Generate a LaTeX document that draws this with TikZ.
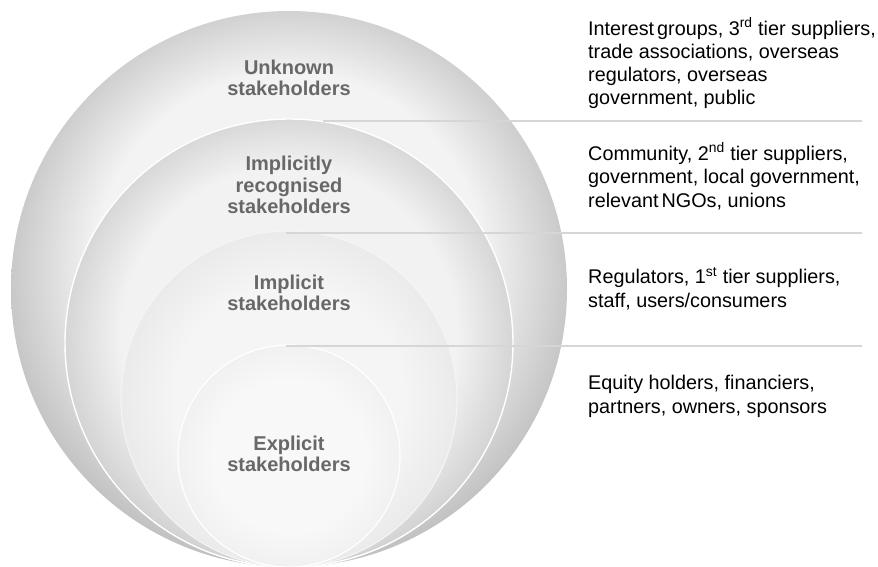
\documentclass[tikz,border=0pt]{standalone}
\usepackage{fontspec}
\setmainfont{Liberation Sans}
\usetikzlibrary{positioning}

\definecolor{ringAin}{RGB}{243,243,243}
\definecolor{ringAout}{RGB}{182,182,182}
\definecolor{ringBin}{RGB}{242,242,242}
\definecolor{ringBout}{RGB}{198,198,198}
\definecolor{ringCin}{RGB}{245,245,245}
\definecolor{ringCout}{RGB}{230,230,230}
\definecolor{ringDin}{RGB}{248,248,248}
\definecolor{ringDout}{RGB}{238,238,238}
\definecolor{labelgray}{RGB}{104,104,104}
\definecolor{rulegray}{RGB}{214,214,214}

% circle edge sits at about 28.3bp of the shading
\pgfdeclareradialshading{ringA}{\pgfpoint{0bp}{3bp}}{color(0bp)=(ringAin); color(17.5bp)=(ringAin); color(28.3bp)=(ringAout); color(50bp)=(ringAout)}
\pgfdeclareradialshading{ringB}{\pgfpoint{0bp}{1.5bp}}{color(0bp)=(ringBin); color(18.7bp)=(ringBin); color(28.3bp)=(ringBout); color(50bp)=(ringBout)}
\pgfdeclareradialshading{ringC}{\pgfpoint{0bp}{0bp}}{color(0bp)=(ringCin); color(17bp)=(ringCin); color(28.3bp)=(ringCout); color(50bp)=(ringCout)}
\pgfdeclareradialshading{ringD}{\pgfpoint{0bp}{0bp}}{color(0bp)=(ringDin); color(17bp)=(ringDin); color(28.3bp)=(ringDout); color(50bp)=(ringDout)}

\begin{document}
\begin{tikzpicture}[
            x=1pt, y=-1pt,
            circlelabel/.style={ align=center, text=labelgray, font=\fontsize{20}{21.5}\selectfont\bfseries },
            grouptext/.style={ align=left, anchor=base west, inner sep=0pt, font=\fontsize{19.8}{23.3}\selectfont },
            divider/.style={ draw=rulegray, line width=1.6pt }
        ]
        \useasboundingbox (0,0) rectangle (878,567);

        % nested circles, all touching at the bottom
        \shade[shading=ringA] (289,289) circle[radius=278];
        \shade[shading=ringB, draw=white, line width=1.4pt] (289,343) circle[radius=224];
        \shade[shading=ringC, draw=white!60!ringCout, line width=1pt] (289,399) circle[radius=168];
        \shade[shading=ringD, draw=white, line width=1.2pt] (289,456) circle[radius=111];

        \node[circlelabel] (unknown) at (289,78) {Unknown\\stakeholders};
        \node[circlelabel] (recog) at (289,185) {Implicitly\\recognised\\stakeholders};
        \node[circlelabel] (implicit) at (289,293) {Implicit\\stakeholders};
        \node[circlelabel] (explicit) at (289,454) {Explicit\\stakeholders};

        \coordinate (cut1) at (323,121);
        \coordinate (end1) at (862,121);
        \coordinate (cut2) at (286,233);
        \coordinate (end2) at (862,233);
        \coordinate (cut3) at (286,346);
        \coordinate (end3) at (862,346);
        \draw[divider] (cut1) -- (end1);
        \draw[divider] (cut2) -- (end2);
        \draw[divider] (cut3) -- (end3);

        % base anchor = last line of each block
        \node[grouptext] (third) at (588,105) {Interest\hspace{-2.5pt} groups, 3\textsuperscript{rd} tier suppliers,\\trade associations, overseas\\regulators, overseas\\government, public};
        \node[grouptext] (second) at (588,207) {Community, 2\textsuperscript{nd} tier suppliers,\\government, local government,\\relevant\hspace{-2.5pt} NGOs, unions};
        \node[grouptext] (first) at (588,307) {Regulators, 1\textsuperscript{st} tier suppliers,\\staff, users/consumers};
        \node[grouptext] (equity) at (588,413) {Equity holders, financiers,\\partners, owners, sponsors};
    \end{tikzpicture}
\end{document}
